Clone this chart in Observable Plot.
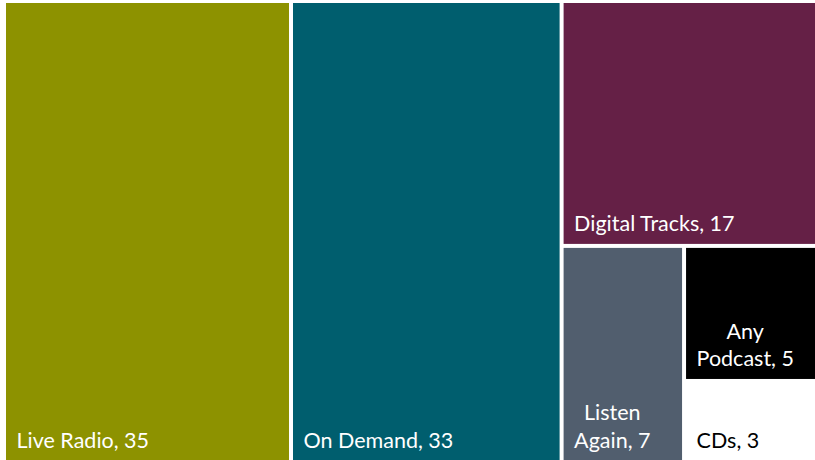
<!DOCTYPE html>
<html>
<head>
<meta charset="utf-8">
<script src="https://cdn.jsdelivr.net/npm/d3@7"></script>
<script src="https://cdn.jsdelivr.net/npm/@observablehq/plot@0.6"></script>
<style>
  html, body { margin: 0; padding: 0; background: #fff; overflow: hidden; }
  svg { display: block; }
</style>
</head>
<body>
<div id="chart"></div>
<script>
const categories = ["Live Radio", "On Demand", "Digital Tracks", "Listen Again", "Any Podcast", "CDs"];
const values = [35, 33, 17, 7, 5, 3];
const colors = ["#8d9200", "#005e6e", "#652046", "#515e6e", "#000000", "#ffffff"];
const textColors = ["#ffffff", "#ffffff", "#ffffff", "#ffffff", "#ffffff", "#000000"];
const labelLines = [["Live Radio, 35"], ["On Demand, 33"], ["Digital Tracks, 17"], ["Listen", "Again, 7"], ["Any", "Podcast, 5"], ["CDs, 3"]];

const W = 815, H = 460;
const FONT = "Lato, sans-serif";
const FS = 21.5;

// treemap layout in pixel units (area slightly extends past the window, as in the reference)
const root = d3.hierarchy({children: categories.map((c, i) => ({name: c, value: values[i], i}))})
  .sum(d => d.value || 0);
d3.treemap().tile(d3.treemapBinary).size([820, 461])(root);
const ox = 4, oy = 1, inset = 2;

const canvas = document.createElement("canvas");
const ctx = canvas.getContext("2d");
ctx.font = `${FS}px ${FONT}`;

const cells = root.leaves().map(l => {
  const i = l.data.i;
  const lines = labelLines[i];
  const maxW = d3.max(lines, s => ctx.measureText(s).width);
  return {
    name: l.data.name,
    i,
    x1: l.x0 + ox + inset, x2: Math.min(l.x1 + ox - inset, W),
    y1: l.y0 + oy + inset, y2: Math.min(l.y1 + oy - inset, H),
    label: lines.join("\n"),
    multi: lines.length > 1,
    maxW
  };
});

const pad = 10;
const labels = cells.map(c => ({
  ...c,
  tx: c.multi ? c.x1 + pad + c.maxW / 2 : c.x1 + pad,
  ty: Math.min(c.y2, H) - 13
}));

const chart = Plot.plot({
  width: W,
  height: H,
  margin: 0,
  x: {type: "identity", axis: null},
  y: {type: "identity", axis: null},
  style: {fontFamily: FONT, background: "#fff"},
  marks: [
    Plot.rect(cells, {x1: "x1", x2: "x2", y1: "y1", y2: "y2", fill: d => colors[d.i]}),
    Plot.text(labels.filter(d => !d.multi), {
      x: "tx", y: "ty", text: "label", textAnchor: "start", lineAnchor: "bottom",
      fill: d => textColors[d.i], fontSize: FS
    }),
    Plot.text(labels.filter(d => d.multi), {
      x: "tx", y: "ty", text: "label", textAnchor: "middle", lineAnchor: "bottom",
      fill: d => textColors[d.i], fontSize: FS, lineHeight: 1.3
    })
  ]
});
document.getElementById("chart").append(chart);
</script>
</body>
</html>
